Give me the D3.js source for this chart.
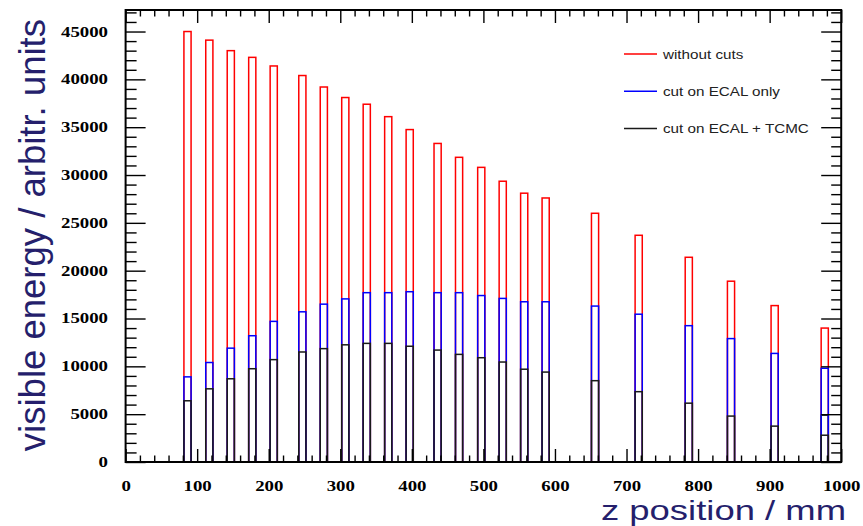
<!DOCTYPE html>
<html>
<head>
<meta charset="utf-8">
<script src="https://cdn.jsdelivr.net/npm/d3@7"></script>
<style>
  html, body { margin: 0; padding: 0; background: #fff; }
  svg { display: block; }
</style>
</head>
<body>
<svg id="chart" width="863" height="526"></svg>
<script>
// z positions of the layers (mm, bin centres)
const zPositions = [86.5, 117, 147, 177, 207, 247, 277, 307, 337, 367, 397,
                    436, 466, 497, 527, 557, 587, 656, 717, 787, 846, 907, 977];
const binWidth = 10;

// visible energy per layer (arbitrary units)
const withoutCuts = [45000, 44100, 43000, 42300, 41400, 40400, 39200, 38100, 37400, 36100, 34750,
                     33300, 31850, 30800, 29350, 28100, 27600, 26000, 23700, 21400, 18900, 16350, 14000];
const cutEcalOnly = [8900, 10400, 11900, 13200, 14700, 15700, 16500, 17050, 17700, 17700, 17800,
                     17700, 17700, 17400, 17100, 16750, 16750, 16300, 15450, 14250, 12900, 11350, 9800];
const cutEcalTcmc = [6400, 7650, 8700, 9750, 10700, 11500, 11850, 12250, 12400, 12400, 12100,
                     11700, 11250, 10900, 10450, 9700, 9400, 8500, 7350, 6150, 4800, 3750, 2800];
// overlapping bin of the ECAL + TCMC histogram in the last layer
const tcmcOverlapZ = [977];
const tcmcOverlapValues = [4900];

const xMajorTicks = d3.range(0, 1001, 100);
const xMinorTicks = d3.range(0, 1001, 20).filter(v => v % 100 !== 0);
const yMajorTicks = d3.range(0, 45001, 5000);
const yMinorTicks = d3.range(0, 47001, 1000).filter(v => v % 5000 !== 0);

const legendLabels = ["without cuts", "cut on ECAL only", "cut on ECAL + TCMC"];
const seriesColors = ["#ff0000", "#0000ff", "#1a1a1a"];

const frame = { left: 125.6, right: 841.2, top: 10, bottom: 462 };
const svg = d3.select("#chart");

const x = d3.scaleLinear().domain([0, 1000]).range([frame.left, frame.right]);
const y = d3.scaleLinear().domain([0, 47250]).range([frame.bottom, frame.top]);

// histogram bins drawn as open boxes
function drawBins(zs, values, color, cls) {
  svg.append("g").attr("class", cls)
    .selectAll("rect")
    .data(zs.map((z, i) => ({ z, v: values[i] })))
    .join("rect")
    .attr("x", d => x(d.z - binWidth / 2))
    .attr("width", d => x(d.z + binWidth / 2) - x(d.z - binWidth / 2))
    .attr("y", d => y(d.v))
    .attr("height", d => y(0) - y(d.v))
    .attr("fill", "none")
    .attr("stroke", color)
    .attr("stroke-width", 1.5);
}
drawBins(zPositions, withoutCuts, seriesColors[0], "red-bins");
drawBins(tcmcOverlapZ, tcmcOverlapValues, seriesColors[2], "overlap-bins");
drawBins(zPositions, cutEcalOnly, seriesColors[1], "blue-bins");
drawBins(zPositions, cutEcalTcmc, seriesColors[2], "black-bins");

// axes with ticks pointing into the frame
function styleAxis(g) {
  g.select(".domain").remove();
  g.selectAll(".tick line").attr("stroke", "#000").attr("stroke-width", 1.4);
}
const tickFont = "'Liberation Serif', 'Times New Roman', serif";
function styleLabels(g, anchor) {
  g.selectAll(".tick text")
    .attr("font-family", tickFont)
    .attr("font-weight", "bold")
    .attr("font-size", 14)
    .attr("fill", "#000")
    .attr("text-anchor", anchor)
    .attr("textLength", function () { return this.textContent.length * 9.4; })
    .attr("lengthAdjust", "spacingAndGlyphs");
}

// bottom
svg.append("g").attr("transform", `translate(0,${frame.bottom})`)
  .call(d3.axisBottom(x).tickValues(xMinorTicks).tickSize(-6.5).tickFormat(""))
  .call(styleAxis);
svg.append("g").attr("transform", `translate(0,${frame.bottom})`)
  .call(d3.axisBottom(x).tickValues(xMajorTicks).tickSize(-13).tickPadding(19).tickFormat(d3.format("d")))
  .call(styleAxis).call(g => styleLabels(g, "middle"));
// top
svg.append("g").attr("transform", `translate(0,${frame.top})`)
  .call(d3.axisTop(x).tickValues(xMinorTicks).tickSize(-6.5).tickFormat(""))
  .call(styleAxis);
svg.append("g").attr("transform", `translate(0,${frame.top})`)
  .call(d3.axisTop(x).tickValues(xMajorTicks).tickSize(-13).tickFormat(""))
  .call(styleAxis);
// left
svg.append("g").attr("transform", `translate(${frame.left},0)`)
  .call(d3.axisLeft(y).tickValues(yMinorTicks).tickSize(-11).tickFormat(""))
  .call(styleAxis);
svg.append("g").attr("transform", `translate(${frame.left},0)`)
  .call(d3.axisLeft(y).tickValues(yMajorTicks).tickSize(-20).tickPadding(17.6).tickFormat(d3.format("d")))
  .call(styleAxis).call(g => styleLabels(g, "end"));
// right
svg.append("g").attr("transform", `translate(${frame.right},0)`)
  .call(d3.axisRight(y).tickValues(yMinorTicks).tickSize(-10).tickFormat(""))
  .call(styleAxis);
svg.append("g").attr("transform", `translate(${frame.right},0)`)
  .call(d3.axisRight(y).tickValues(yMajorTicks).tickSize(-20).tickFormat(""))
  .call(styleAxis);

// frame
svg.append("rect")
  .attr("x", frame.left).attr("y", frame.top)
  .attr("width", frame.right - frame.left).attr("height", frame.bottom - frame.top)
  .attr("fill", "none").attr("stroke", "#000").attr("stroke-width", 2);

// axis titles
const titleColor = "#251f6c";
svg.append("text")
  .attr("transform", "translate(45,19) rotate(-90)")
  .attr("text-anchor", "end")
  .attr("font-family", "'Liberation Sans', Arial, sans-serif")
  .attr("font-size", 36.5)
  .attr("fill", titleColor)
  .text("visible energy / arbitr. units");
svg.append("text")
  .attr("x", 846).attr("y", 519.8)
  .attr("text-anchor", "end")
  .attr("font-family", "'Liberation Sans', Arial, sans-serif")
  .attr("font-size", 28.5)
  .attr("fill", titleColor)
  .attr("textLength", 245)
  .attr("lengthAdjust", "spacingAndGlyphs")
  .text("z position / mm");

// legend
const legend = svg.append("g").attr("class", "legend");
const rows = legend.selectAll("g").data(legendLabels).join("g")
  .attr("transform", (d, i) => `translate(624,${54 + i * 37.2})`);
rows.append("line")
  .attr("x1", 0).attr("x2", 33).attr("y1", 0).attr("y2", 0)
  .attr("stroke", (d, i) => seriesColors[i]).attr("stroke-width", 1.5);
rows.append("text")
  .attr("x", 39).attr("dy", "0.35em")
  .attr("font-family", "'Liberation Sans', Arial, sans-serif")
  .attr("font-size", 13)
  .attr("fill", "#222")
  .text(d => d)
  .each(function () {
    const w = this.getComputedTextLength();
    d3.select(this).attr("textLength", w * 1.17).attr("lengthAdjust", "spacingAndGlyphs");
  });
</script>
</body>
</html>
